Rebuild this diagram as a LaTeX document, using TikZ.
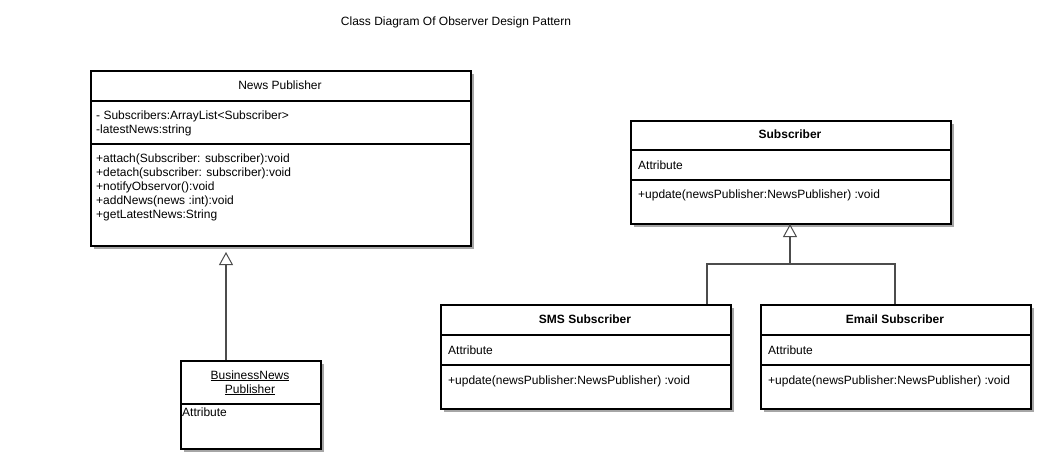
\documentclass[tikz,border=0pt]{standalone}
\usepackage{fontspec}
\setmainfont{Liberation Sans}
\usetikzlibrary{arrows.meta}
\begin{document}
\begin{tikzpicture}[x=1pt,y=-1pt,
  cls/.style={draw=black, line width=1.8pt, fill=white, anchor=north west, inner sep=0pt},
  shadowbox/.style={fill=black!35},
  divline/.style={draw=black, line width=1.8pt},
  txt/.style={anchor=base west, inner sep=0pt, font=\fontsize{12}{14}\selectfont},
  ctxt/.style={anchor=base, inner sep=0pt, font=\fontsize{12}{14}\selectfont},
  btxt/.style={anchor=base, inner sep=0pt, font=\fontsize{12}{14}\selectfont\bfseries},
  conn/.style={draw=black!70, line width=1.2pt},
  gen/.style={conn, -{Triangle[open, width=14pt, length=13pt, line width=1pt]}, draw=black!70},
]
\useasboundingbox (0,0) rectangle (1058,469);
\fill[white] (0,0) rectangle (1058,469);

% shadows
\fill[shadowbox] (94,74) rectangle (474,249);
\fill[shadowbox] (184,364) rectangle (324,452);
\fill[shadowbox] (634,124) rectangle (954,227);
\fill[shadowbox] (444,308) rectangle (734,412);
\fill[shadowbox] (764,308) rectangle (1034,412);

% title
\node[ctxt] (title) at (456,25) {Class Diagram Of Observer Design Pattern};

% News Publisher
\node[cls, minimum width=380pt, minimum height=175pt] (np) at (90,70) {};
\draw[divline] (np.west |- 0,101) -- (np.east |- 0,101);
\draw[divline] (np.west |- 0,144) -- (np.east |- 0,144);
\node[ctxt] (npname) at (280,89) {News Publisher};
\node[txt] (npa1) at (96,119) {- Subscribers:ArrayList<Subscriber>};
\node[txt] (npa2) at (96,133) {-latestNews:string};
\node[txt] (npm1) at (96,162) {+attach(Subscriber: subscriber):void};
\node[txt] (npm2) at (96,176) {+detach(subscriber: subscriber):void};
\node[txt] (npm3) at (96,190) {+notifyObservor():void};
\node[txt] (npm4) at (96,204) {+addNews(news :int):void};
\node[txt] (npm5) at (96,218) {+getLatestNews:String};

% BusinessNews Publisher
\node[cls, minimum width=140pt, minimum height=88pt] (bnp) at (180,360) {};
\draw[divline] (bnp.west |- 0,404) -- (bnp.east |- 0,404);
\node[ctxt] (bnpn1) at (250,379) {\underline{BusinessNews}};
\node[ctxt] (bnpn2) at (250,393) {\underline{Publisher}};
\node[txt] (bnpa) at (182,416) {Attribute};

% Subscriber
\node[cls, minimum width=320pt, minimum height=103pt] (sub) at (630,120) {};
\draw[divline] (sub.west |- 0,150) -- (sub.east |- 0,150);
\draw[divline] (sub.west |- 0,180) -- (sub.east |- 0,180);
\node[btxt] (subn) at (790,138) {Subscriber};
\node[txt] (suba) at (638,169) {Attribute};
\node[txt] (subm) at (638,198) {+update(newsPublisher:NewsPublisher) :void};

% SMS Subscriber
\node[cls, minimum width=290pt, minimum height=104pt] (sms) at (440,304) {};
\draw[divline] (sms.west |- 0,335) -- (sms.east |- 0,335);
\draw[divline] (sms.west |- 0,365) -- (sms.east |- 0,365);
\node[btxt] (smsn) at (585,323) {SMS Subscriber};
\node[txt] (smsa) at (448,354) {Attribute};
\node[txt] (smsm) at (448,384) {+update(newsPublisher:NewsPublisher) :void};

% Email Subscriber
\node[cls, minimum width=270pt, minimum height=104pt] (em) at (760,304) {};
\draw[divline] (em.west |- 0,335) -- (em.east |- 0,335);
\draw[divline] (em.west |- 0,365) -- (em.east |- 0,365);
\node[btxt] (emn) at (895,323) {Email Subscriber};
\node[txt] (ema) at (768,354) {Attribute};
\node[txt] (emm) at (768,384) {+update(newsPublisher:NewsPublisher) :void};

% connectors
\coordinate (nptip) at (226,252);
\coordinate (bnptop) at (226,360);
\draw[gen] (bnptop) -- (nptip);

\coordinate (subtip) at (790,224);
\coordinate (junc) at (790,264);
\coordinate (smstop) at (707,304);
\coordinate (emtop) at (895,304);
\draw[conn] (smstop) -- (smstop |- junc) -- (emtop |- junc) -- (emtop);
\draw[gen] (junc) -- (subtip);
\end{tikzpicture}
\end{document}
